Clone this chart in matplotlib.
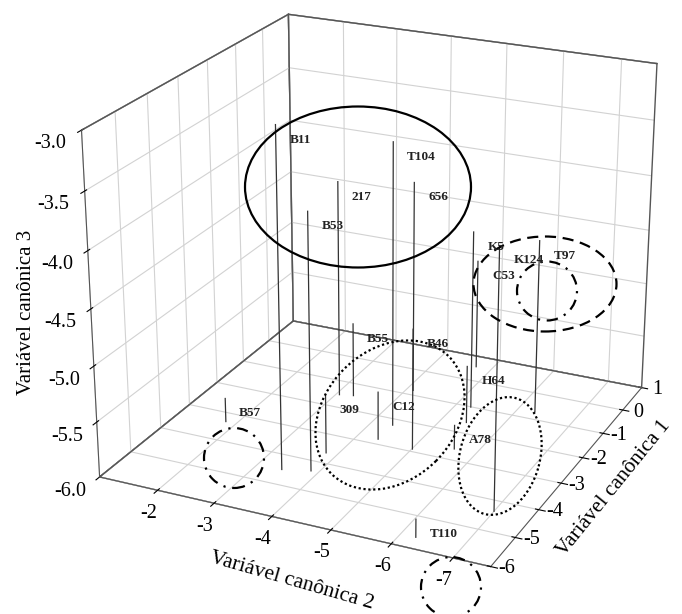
import matplotlib
matplotlib.use("Agg")
import matplotlib.pyplot as plt
import matplotlib.transforms as mtransforms
from matplotlib.patches import Ellipse
from matplotlib.ticker import FormatStrFormatter
from mpl_toolkits.mplot3d import proj3d

# ---------------- data ----------------
labels = ["B11", "B53", "217", "T104", "656", "B55", "B46", "309", "C12",
          "H64", "A78", "B57", "T110", "K5", "C53", "K124", "T97"]
can2 = [-3.43, -3.87, -3.06, -4.36, -4.12, -3.29, -5.01, -3.81, -4.36,
        -5.42, -5.62, -1.81, -6.25, -5.26, -4.72, -7.00, -6.30]
can1 = [-4.50, -4.34, -1.53, -2.23, -0.82, -1.46, -2.91, -3.65, -2.82,
        -1.60, -2.61, -3.32, -5.65, -1.01, 0.57, -4.35, -0.72]
can3 = [-3.00, -3.71, -4.00, -3.43, -4.04, -5.31, -4.90, -5.46, -5.56,
        -5.47, -5.78, -5.78, -5.84, -4.36, -4.97, -3.72, -4.40]

x_ticks = [-2, -3, -4, -5, -6, -7]
y_ticks = [-6, -5, -4, -3, -2, -1, 0, 1]
z_ticks = [-6.0, -5.5, -5.0, -4.5, -4.0, -3.5, -3.0]
x_lim = (-0.95, -7.6)
y_lim = (-6, 1)
z_lim = (-6, -3)

# hand-drawn group ellipses (annotation overlay, image pixels: cx, cy, w, h, angle, style)
groups = [
    (358, 187, 226, 161, 0, "solid"),
    (545, 284, 143, 95, 0, "dashed"),
    (547, 291, 60, 59, 0, "dashdot"),
    (390, 415, 166, 130, 45, "dotted"),
    (500, 456, 120, 80, 75, "dotted"),
    (234, 458, 60, 60, 0, "dashdot"),
    (451, 587, 60, 60, 0, "dashdot"),
]

W, H = 682, 614
plt.rcParams["font.family"] = ["Liberation Serif", "DejaVu Serif"]
plt.rcParams["axes.unicode_minus"] = False
plt.rcParams["grid.color"] = "#d2d2d2"
plt.rcParams["grid.linewidth"] = 0.8

fig = plt.figure(figsize=(W / 100, H / 100), dpi=100)
ax = fig.add_axes([0.047, 0.05, 1.0, 1.0], projection="3d",
                  proj_type="persp", focal_length=0.7)
ax.view_init(elev=22.5, azim=-65)
ax.set_box_aspect((1.27, 1.28, 1.1), zoom=1.1)
ax.set_xlim(*x_lim)
ax.set_ylim(*y_lim)
ax.set_zlim(*z_lim)

edge = "#555555"
for axis in (ax.xaxis, ax.yaxis, ax.zaxis):
    axis.set_pane_color((1, 1, 1, 1))
    axis.pane.set_edgecolor(edge)
    axis.pane.set_linewidth(1.0)
    axis.line.set_color(edge)

ax.zaxis.set_ticks_position("lower")
ax.zaxis.set_label_position("lower")

ax.set_xticks(x_ticks)
ax.set_yticks(y_ticks)
ax.set_zticks(z_ticks)
ax.set_xticklabels([""] * len(x_ticks))
ax.set_yticklabels([""] * len(y_ticks))
ax.zaxis.set_major_formatter(FormatStrFormatter("%.1f"))
ax.tick_params(labelsize=14.5)

# outline of the back walls
x0, x1 = x_lim
y0, y1 = y_lim
z0, z1 = z_lim
ax.plot([x0, x0], [y1, y1], [z0, z1], color=edge, lw=1.0)
ax.plot([x1, x1], [y1, y1], [z0, z1], color=edge, lw=1.0)
ax.plot([x0, x0], [y0, y1], [z1, z1], color=edge, lw=1.0)
ax.plot([x0, x1], [y1, y1], [z1, z1], color=edge, lw=1.0)
ax.plot([x0, x1], [y1, y1], [z0, z0], color=edge, lw=1.0)
ax.plot([x0, x0], [y0, y1], [z0, z0], color=edge, lw=1.0)

for x, y, z in zip(can2, can1, can3):
    ax.plot([x, x], [y, y], [z0, z], color="#333333", lw=0.9)

fig.canvas.draw()
M = ax.get_proj()


def to_px(x, y, z):
    xp, yp, _ = proj3d.proj_transform(x, y, z, M)
    return ax.transData.transform((xp, yp))


for x, y, z, lab in zip(can2, can1, can3, labels):
    px, py = to_px(x, y, z)
    fig.text((px + 14) / W, (py - 15) / H, lab, fontsize=9.5, fontweight="bold",
             ha="left", va="center", color="#222222")

# tick labels of the two floor axes
for t in x_ticks:
    px, py = to_px(t, y0, z0)
    fig.text((px - 9) / W, (py - 23) / H, f"{t:d}", fontsize=14.5,
             ha="center", va="center")
for t in y_ticks:
    px, py = to_px(x1, t, z0)
    fig.text((px + 16) / W, (py - 2) / H, f"{t:d}", fontsize=14.5,
             ha="center", va="center")

fig.text(27 / W, 1 - 312 / H, "Variável canônica 3", rotation=90,
         ha="center", va="center", fontsize=15)
fig.text(292 / W, 1 - 581 / H, "Variável canônica 2", rotation=-16,
         ha="center", va="center", fontsize=15.5)
fig.text(614 / W, 1 - 488 / H, "Variável canônica 1", rotation=51,
         ha="center", va="center", fontsize=15.5)

styles = {"solid": "-", "dashed": (0, (5, 3)), "dashdot": (0, (5, 3, 1, 3)),
          "dotted": (0, (1, 1.2))}
for cx, cy, w, h, ang, st in groups:
    e = Ellipse((cx, H - cy), w, h, angle=ang, fill=False, edgecolor="black",
                lw=1.6, linestyle=styles[st], transform=mtransforms.IdentityTransform())
    fig.add_artist(e)

fig.savefig("out.png", dpi=100)
